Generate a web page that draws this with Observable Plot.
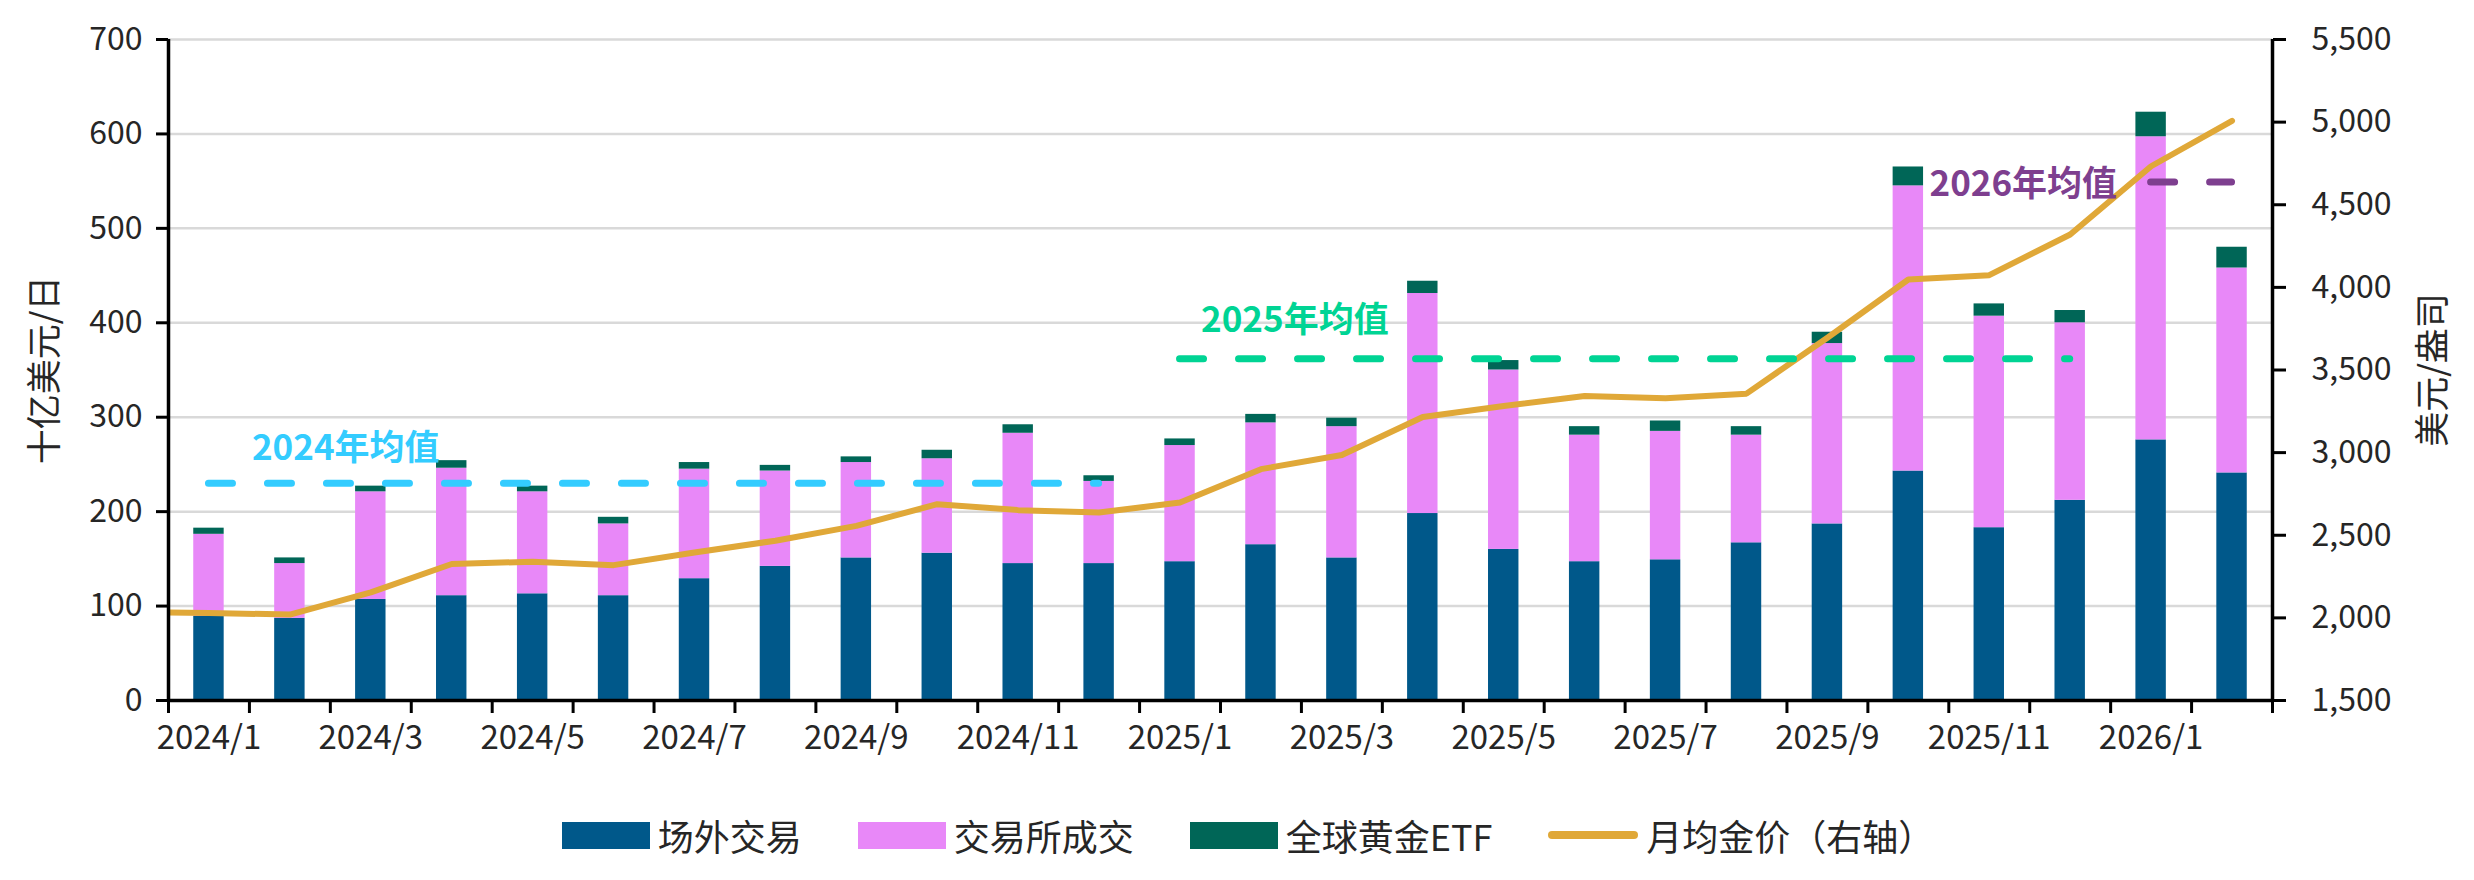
<!DOCTYPE html>
<html>
<head>
<meta charset="utf-8">
<script src="https://cdn.jsdelivr.net/npm/d3@7"></script>
<script src="https://cdn.jsdelivr.net/npm/@observablehq/plot@0.6"></script>
<style>
  html, body { margin: 0; padding: 0; background: #fff; }
  body { font-family: "Noto Sans CJK SC", "Noto Sans", sans-serif; width: 2474px; }
  #legend { display: flex; justify-content: center; align-items: center; height: 90px; font-size: 36px; color: #262626; padding-left: 22px; }
  .item { display: flex; align-items: center; margin: 0 28px; }
  .sw { width: 88px; height: 27px; margin-right: 8px; }
  .ln { width: 90px; height: 8px; border-radius: 4px; margin-right: 8px; }
</style>
</head>
<body>
<div id="chart"></div>
<div id="legend"></div>
<script>
// ---------- data ----------
const months = ["2024/1","2024/2","2024/3","2024/4","2024/5","2024/6","2024/7","2024/8","2024/9","2024/10","2024/11","2024/12",
                "2025/1","2025/2","2025/3","2025/4","2025/5","2025/6","2025/7","2025/8","2025/9","2025/10","2025/11","2025/12",
                "2026/1","2026/2"];
const otc      = [89, 87, 107, 111, 113, 111, 129, 142, 151, 156, 145, 145, 147, 165, 151, 198, 160, 147, 149, 167, 187, 243, 183, 212, 276, 241];
const exchange = [87, 58, 114, 135, 108, 76, 116, 101, 101, 100, 138, 87, 123, 129, 139, 233, 190, 134, 136, 114, 191, 302, 224, 188, 321, 217];
const etf      = [6.5, 6, 6, 8, 6, 7, 7, 6, 6, 9, 9, 6, 7, 9, 9, 13, 10, 9, 11, 9, 12, 20, 13, 13, 26, 22];
const goldPrice = [2030, 2020, 2154, 2326, 2340, 2319, 2396, 2467, 2557, 2688, 2652, 2638, 2698, 2900, 2986, 3216, 3282, 3343, 3329, 3357, 3695, 4048, 4074, 4320, 4733, 5008];
// the price line enters from the left edge (previous month, cut by the axis)
const goldPricePrevMonth = 2035;
const xTickLabels = ["2024/1","2024/3","2024/5","2024/7","2024/9","2024/11","2025/1","2025/3","2025/5","2025/7","2025/9","2025/11","2026/1"];
const leftTicks  = [0, 100, 200, 300, 400, 500, 600, 700];
const rightTicks = [1500, 2000, 2500, 3000, 3500, 4000, 4500, 5000, 5500];
const avgNames  = ["2024年均值", "2025年均值", "2026年均值"];
const avgValues = [230, 362, 549];
const avgFrom   = ["2024/1", "2025/1", "2026/1"];
const avgTo     = ["2024/12", "2025/12", "2026/2"];
const seriesNames = ["场外交易", "交易所成交", "全球黄金ETF", "月均金价（右轴）"];
const leftTitle = "十亿美元/日";
const rightTitle = "美元/盎司";

// ---------- styles ----------
const seriesColors = ["#00588A", "#E888F8", "#006657", "#E0A838"];
const avgColors = ["#33CCFF", "#00D494", "#7E3F8F"];
const avgLabelStyle = [
  {dx: 43, dy: -35, textAnchor: "start"},
  {dx: 21, dy: -38, textAnchor: "start"},
  {dx: -34, dy: 3, textAnchor: "end"}
];
const FONT = '"Noto Sans CJK SC", "Noto Sans", sans-serif';

// ---------- derived tables ----------
const rows = [];
months.forEach((m, i) => {
  const parts = [otc[i], exchange[i], etf[i]];
  let acc = 0;
  parts.forEach((v, k) => { rows.push({i, series: seriesNames[k], y1: acc, y2: acc + v}); acc += v; });
});
const yMax = leftTicks[leftTicks.length - 1];
const rMin = rightTicks[0], rMax = rightTicks[rightTicks.length - 1];
const toLeft = p => (p - rMin) / (rMax - rMin) * yMax;
const fromLeft = v => v / yMax * (rMax - rMin) + rMin;
const goldRows = [{i: -1, y: toLeft(goldPricePrevMonth)}].concat(goldPrice.map((p, i) => ({i, y: toLeft(p)})));
const avgRows = avgNames.map((n, k) => ({name: n, value: avgValues[k], x1: months.indexOf(avgFrom[k]), x2: months.indexOf(avgTo[k])}));
const bounds = d3.range(months.length + 1).map(i => i - 0.5);
const labelIdx = xTickLabels.map(l => months.indexOf(l));
const halfBar = 0.188;
const fmt = d3.format(",");

const marks = [
  Plot.gridY(leftTicks, {stroke: "#d9d9d9", strokeOpacity: 1, strokeWidth: 2.5}),
  Plot.rect(rows, {x1: d => d.i - halfBar, x2: d => d.i + halfBar, y1: "y1", y2: "y2", fill: "series"}),
  Plot.line(goldRows, {x: "i", y: "y", stroke: seriesColors[3], strokeWidth: 6, strokeLinejoin: "round", clip: true}),
];
avgRows.forEach((a, k) => {
  marks.push(Plot.ruleY([a], {y: "value", x1: "x1", x2: "x2", stroke: avgColors[k], strokeWidth: 7,
    strokeDasharray: "24,35", strokeLinecap: "round"}));
  const s = avgLabelStyle[k];
  marks.push(Plot.text([a], {x: "x1", y: "value", text: "name", fill: avgColors[k],
    fontWeight: "bold", fontSize: 35, dx: s.dx, dy: s.dy, textAnchor: s.textAnchor}));
});
marks.push(
  Plot.ruleY([0], {stroke: "#000", strokeWidth: 3.5}),
  Plot.ruleX([bounds[0], bounds[bounds.length - 1]], {stroke: "#000", strokeWidth: 3.5}),
  Plot.axisY(leftTicks, {anchor: "left", tickSize: 12, tickPadding: 14, strokeWidth: 3, stroke: "#000", fill: "#262626", fontSize: 32, label: null}),
  Plot.axisY(rightTicks.map(toLeft), {anchor: "right", tickSize: 13, tickPadding: 26, strokeWidth: 3, stroke: "#000", fill: "#262626", fontSize: 32,
    tickFormat: v => fmt(Math.round(fromLeft(v))), label: null}),
  Plot.axisY([], {anchor: "left", fill: "#262626", fontSize: 35,
    label: leftTitle, labelAnchor: "center", labelOffset: 136, labelArrow: "none"}),
  Plot.axisY([], {anchor: "right", fill: "#262626", fontSize: 35,
    label: rightTitle, labelAnchor: "center", labelOffset: 172, labelArrow: "none"}),
  Plot.axisX(bounds, {anchor: "bottom", tickSize: 13, strokeWidth: 3, stroke: "#000", tickFormat: () => "", label: null}),
  Plot.axisX(labelIdx, {anchor: "bottom", tickSize: 0, tickPadding: 25, fill: "#262626", fontSize: 33,
    tickFormat: i => months[i], label: null})
);

const chart = Plot.plot({
  width: 2474, height: 790,
  marginLeft: 168, marginRight: 202, marginTop: 39, marginBottom: 90,
  x: {type: "linear", domain: [bounds[0], bounds[bounds.length - 1]]},
  y: {domain: [0, yMax]},
  color: {domain: seriesNames.slice(0, 3), range: seriesColors.slice(0, 3)},
  style: {fontFamily: FONT, fontSize: "35px", color: "#262626", background: "#fff", overflow: "visible"},
  marks
});
document.getElementById("chart").appendChild(chart);

// ---------- legend ----------
const legend = document.getElementById("legend");
seriesNames.forEach((n, k) => {
  const it = document.createElement("div"); it.className = "item";
  const sw = document.createElement("div"); sw.className = k === 3 ? "ln" : "sw"; sw.style.background = seriesColors[k];
  const tx = document.createElement("span"); tx.textContent = n;
  it.appendChild(sw); it.appendChild(tx); legend.appendChild(it);
});
</script>
</body>
</html>
